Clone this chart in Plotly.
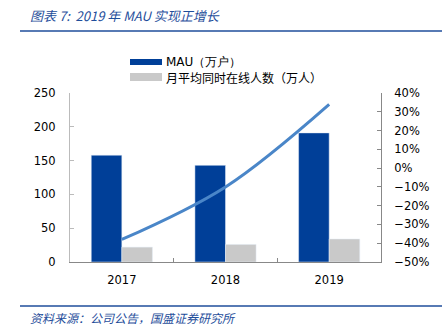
import plotly.graph_objects as go

years = ["2017", "2018", "2019"]
mau = [158, 143, 191]
online = [22, 26, 34]
growth = [-38, -10, 34]

W, H = 448, 329
L, R, T, B = 70, 67, 93, 67
PW, PH = W - L - R, H - T - B

def px(x):
    return (x - L) / PW

def py(y):
    return (H - B - y) / PH

fig = go.Figure()
fig.add_trace(go.Bar(x=years, y=mau, name="MAU（万户）", marker_color="#003f98",
                     showlegend=False))
fig.add_trace(go.Bar(x=years, y=online, name="月平均同时在线人数（万人）",
                     marker_color="#c9c9c9", showlegend=False))
fig.add_trace(go.Scatter(x=years, y=growth, yaxis="y2", mode="lines",
                         line=dict(color="#4a86c8", width=3, shape="spline", smoothing=1),
                         showlegend=False))

font = "Tahoma, 'DejaVu Sans', Verdana, sans-serif"
cjk = "'Noto Sans CJK SC', sans-serif"

fig.update_layout(
    width=W, height=H,
    margin=dict(l=L, r=R, t=T, b=B),
    paper_bgcolor="white", plot_bgcolor="white",
    barmode="group", bargap=0.41, bargroupgap=0,
    font=dict(family=font, size=11, color="#000"),
    xaxis=dict(showline=True, linecolor="#888", linewidth=1, ticks="inside",
               tickson="boundaries", ticklen=4, tickcolor="#888",
               tickfont=dict(size=11.5), showgrid=False, ticklabelstandoff=7),
    yaxis=dict(range=[0, 250], dtick=50, showline=True, linecolor="#bbb",
               ticks="inside", ticklen=4, tickcolor="#bbb", showgrid=False,
               zeroline=False, tickfont=dict(size=11.5), ticklabelstandoff=11),
    yaxis2=dict(range=[-50, 40], dtick=10, overlaying="y", side="right",
                ticksuffix="%", showline=True, linecolor="#888", ticks="inside",
                ticklen=4, tickcolor="#888", showgrid=False, zeroline=False,
                tickfont=dict(size=11.5), ticklabelstandoff=10),
)

shapes = [
    dict(type="line", xref="paper", yref="paper", x0=px(20), x1=px(442),
         y0=py(31), y1=py(31), line=dict(color="#1f4e9b", width=1.5)),
    dict(type="line", xref="paper", yref="paper", x0=px(20), x1=px(442),
         y0=py(306), y1=py(306), line=dict(color="#1f4e9b", width=1.5)),
    dict(type="rect", xref="paper", yref="paper", x0=px(130), x1=px(162),
         y0=py(65), y1=py(59), fillcolor="#003f98", line=dict(width=0)),
    dict(type="rect", xref="paper", yref="paper", x0=px(130), x1=px(162),
         y0=py(81), y1=py(73), fillcolor="#c9c9c9", line=dict(width=0)),
]
annotations = [
    dict(text="<i>图表 7:  2019 年 MAU 实现正增长</i>", xref="paper", yref="paper",
         x=px(28), y=py(16), xanchor="left", yanchor="middle", showarrow=False,
         font=dict(family=cjk, size=13, color="#1f4e9b")),
    dict(text="<i>资料来源：公司公告，国盛证券研究所</i>", xref="paper", yref="paper",
         x=px(28), y=py(317), xanchor="left", yanchor="middle", showarrow=False,
         font=dict(family=cjk, size=12, color="#1f4e9b")),
    dict(text="MAU（万户）", xref="paper", yref="paper", x=px(164), y=py(62),
         xanchor="left", yanchor="middle", showarrow=False,
         font=dict(family=font, size=12, color="#000")),
    dict(text="月平均同时在线人数（万人）", xref="paper", yref="paper", x=px(164), y=py(77),
         xanchor="left", yanchor="middle", showarrow=False,
         font=dict(family=cjk, size=12, color="#000")),
]
fig.update_layout(shapes=shapes, annotations=annotations)

fig.write_html("out.html")
